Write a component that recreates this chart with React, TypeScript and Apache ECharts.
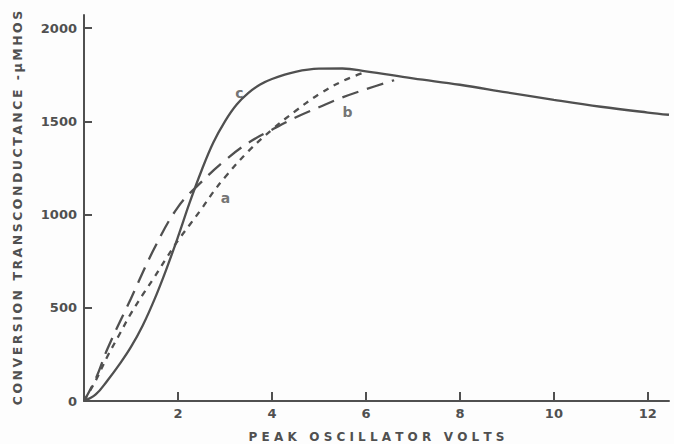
import React, { useEffect, useRef } from "react";
import * as echarts from "echarts";

const curveC: [number, number][] = [
  [0, 0], [0.25, 35], [0.5, 110], [0.75, 195], [1.0, 290], [1.25, 405], [1.5, 545],
  [1.75, 705], [2.0, 880], [2.25, 1065], [2.5, 1235], [2.75, 1385], [3.0, 1500],
  [3.25, 1590], [3.5, 1652], [3.75, 1697], [4.0, 1727], [4.5, 1765], [5.0, 1782],
  [5.5, 1783], [6.0, 1768], [7.0, 1730], [8.0, 1696], [9.0, 1655], [10.0, 1615],
  [11.0, 1578], [12.0, 1547], [12.45, 1535],
];
const curveA: [number, number][] = [
  [0, 0], [0.25, 110], [0.5, 240], [0.75, 355], [1.0, 470], [1.25, 570], [1.5, 665],
  [1.75, 765], [2.0, 860], [2.25, 945], [2.5, 1030], [2.75, 1120], [3.0, 1200],
  [3.5, 1340], [4.0, 1455], [4.5, 1555], [5.0, 1645], [5.5, 1715], [6.0, 1765],
];
const curveB: [number, number][] = [
  [0, 0], [0.25, 120], [0.5, 280], [1.0, 550], [1.5, 820], [2.0, 1040], [2.5, 1175],
  [3.0, 1290], [3.5, 1385], [4.0, 1455], [4.5, 1520], [5.0, 1575], [5.5, 1628],
  [6.0, 1672], [6.6, 1720],
];
const curveLabels: { name: string; value: [number, number] }[] = [
  { name: "c", value: [3.31, 1653] },
  { name: "a", value: [3.01, 1089] },
  { name: "b", value: [5.61, 1551] },
];
const xTicks = [2, 4, 6, 8, 10, 12];
const yTicks = [0, 500, 1000, 1500, 2000];
const spaced = (s: string) =>
  s.split(" ").map((w) => w.split("").join("\u2009")).join("\u2009\u2009 ");
const xTitle = "P E A K   O S C I L L A T O R   V O L T S";
const yTitle = spaced("CONVERSION TRANSCONDUCTANCE -μMHOS");

export default function App() {
  const ref = useRef<HTMLDivElement>(null);
  useEffect(() => {
    if (!ref.current) return;
    const chart = echarts.init(ref.current, undefined, { renderer: "svg" });
    const ink = "#505050";
    const font = "DejaVu Sans";
    chart.setOption({
      animation: false,
      backgroundColor: "#fdfdfd",
      grid: { left: 84, right: 5, top: 15, bottom: 43, containLabel: false, outerBoundsMode: "none" },
      xAxis: {
        type: "value",
        min: 0,
        max: 12.45,
        name: xTitle,
        nameLocation: "middle",
        nameGap: 30,
        nameTextStyle: { color: ink, fontFamily: font, fontWeight: "bold", fontSize: 12 },
        axisLine: { lineStyle: { color: ink, width: 2 } },
        axisTick: { inside: true, length: 9, customValues: xTicks, lineStyle: { color: ink, width: 2 } },
        axisLabel: {
          color: ink, fontFamily: font, fontWeight: "bold", fontSize: 13, margin: 6,
          customValues: xTicks,
          formatter: (v: number) => String(v),
        },
        splitLine: { show: false },
      },
      yAxis: {
        type: "value",
        min: 0,
        max: 2070,
        name: yTitle,
        nameLocation: "middle",
        nameGap: 60,
        nameRotate: 90,
        nameTextStyle: { color: ink, fontFamily: font, fontWeight: "bold", fontSize: 12.5 },
        axisLine: { show: true, lineStyle: { color: ink, width: 2 } },
        axisTick: { show: true, inside: true, length: 8, customValues: yTicks, lineStyle: { color: ink, width: 2 } },
        axisLabel: {
          color: ink, fontFamily: font, fontWeight: "bold", fontSize: 13, margin: 7,
          customValues: yTicks,
          formatter: (v: number) => String(v),
        },
        splitLine: { show: false },
      },
      series: [
        {
          type: "line", data: curveC, smooth: 0.4, showSymbol: false,
          lineStyle: { color: ink, width: 2.3, type: "solid" },
        },
        {
          type: "line", data: curveA, smooth: 0.4, showSymbol: false,
          lineStyle: { color: ink, width: 2.3, type: [6, 6] },
        },
        {
          type: "line", data: curveB, smooth: 0.4, showSymbol: false,
          lineStyle: { color: ink, width: 2.3, type: [17, 9] },
        },
        {
          type: "scatter", data: curveLabels, symbolSize: 0,
          label: {
            show: true, position: "inside", formatter: "{b}",
            color: ink, fontFamily: font, fontWeight: "bold", fontSize: 14,
          },
        },
      ],
    });
    return () => chart.dispose();
  }, []);
  return <div ref={ref} style={{ width: 674, height: 444, position: "absolute", left: 0, top: 0 }} />;
}
